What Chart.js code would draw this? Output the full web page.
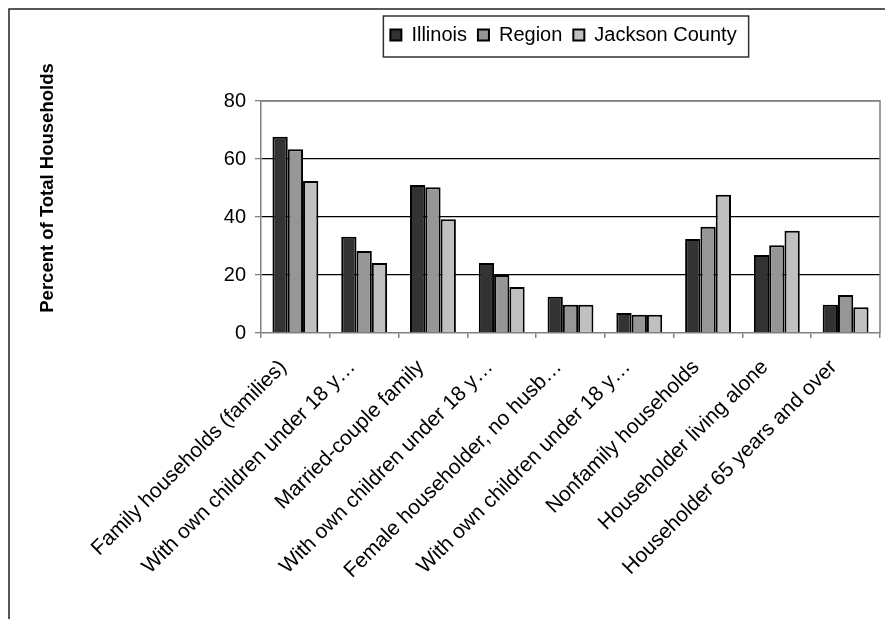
<!DOCTYPE html>
<html>
<head>
<meta charset="utf-8">
<script src="https://cdn.jsdelivr.net/npm/chart.js@4/dist/chart.umd.min.js"></script>
<style>
  body { margin: 0; background: #fff; }
  canvas { display: block; }
</style>
</head>
<body>
<canvas id="households" width="885" height="619"></canvas>
<script>
// household types (labels as shown, cut off like the original)
var categories = [
    "Family households (families)",
    "With own children under 18 y\u2026",
    "Married-couple family",
    "With own children under 18 y\u2026",
    "Female householder, no husb\u2026",
    "With own children under 18 y\u2026",
    "Nonfamily households",
    "Householder living alone",
    "Householder 65 years and over"
];
var illinois = [67.7, 33.2, 51.0, 24.1, 12.5, 6.9, 32.4, 26.9, 9.7];
var region   = [63.4, 28.3, 50.3, 20.0, 9.7, 6.3, 36.6, 30.3, 13.1];
var jackson  = [52.4, 24.1, 39.2, 15.9, 9.7, 6.3, 47.7, 35.3, 8.9];
var yTicks = [0, 20, 40, 60, 80];

var fontFam = "Arial, 'Liberation Sans', sans-serif";
var legendShift = -7;

// push the plot down below the legend, nudge legend a bit left
var legendGap = {
    id: 'legendGap',
    beforeLayout: function (chart) {
        var lg = chart.legend;
        if (!lg || lg._gapPatched) return;
        var fit = lg.fit;
        lg.fit = function () {
            fit.call(this);
            this.height += 46;
        };
        var draw = lg.draw;
        lg.draw = function () {
            this.ctx.save();
            this.ctx.translate(legendShift, 0);
            draw.call(this);
            this.ctx.restore();
        };
        lg._gapPatched = true;
    }
};

var extras = {
    id: 'extras',
    beforeDatasetsDraw: function (chart) {
        var c = chart.ctx, a = chart.chartArea;
        c.save();
        c.strokeStyle = '#808080';
        c.lineWidth = 1.5;
        c.beginPath();
        c.moveTo(a.left, a.top);
        c.lineTo(a.right, a.top);
        c.lineTo(a.right, a.bottom);
        c.stroke();
        c.restore();
    },
    afterDraw: function (chart) {
        var c = chart.ctx;
        c.save();
        // outer frame (only top and left are in view)
        c.strokeStyle = '#222';
        c.lineWidth = 1.5;
        c.beginPath();
        c.moveTo(9, 619);
        c.lineTo(9, 9);
        c.lineTo(885, 9);
        c.stroke();

        // y axis title
        c.translate(48, 188);
        c.rotate(-Math.PI / 2);
        c.fillStyle = '#000';
        c.font = 'bold 18.5px ' + fontFam;
        c.textAlign = 'center';
        c.textBaseline = 'middle';
        c.fillText('Percent of Total Households', 0, 0);
        c.restore();

        // box around legend
        var hb = chart.legend.legendHitBoxes;
        if (hb && hb.length) {
            var l = hb[0].left + legendShift,
                r = hb[hb.length - 1].left + hb[hb.length - 1].width + legendShift;
            c.save();
            c.strokeStyle = '#333';
            c.lineWidth = 1.5;
            c.strokeRect(l - 7, 16, (r + 12) - (l - 7), 41);
            c.restore();
        }
    }
};

var ctx = document.getElementById("households");
var chart = new Chart(ctx, {
    type: 'bar',
    data: {
        labels: categories,
        datasets: [{
            label: 'Illinois',
            data: illinois,
            backgroundColor: '#333333',
            borderColor: '#000',
            borderWidth: 2
        }, {
            label: 'Region',
            data: region,
            backgroundColor: '#969696',
            borderColor: '#000',
            borderWidth: 2
        }, {
            label: 'Jackson County',
            data: jackson,
            backgroundColor: '#c0c0c0',
            borderColor: '#000',
            borderWidth: 2
        }]
    },
    options: {
        responsive: false,
        animation: false,
        categoryPercentage: 0.667,
        barPercentage: 1.0,
        layout: { padding: { left: 0, right: 5, top: 14, bottom: 0 } },
        plugins: {
            tooltip: { enabled: false },
            legend: {
                position: 'top',
                fullSize: false,
                labels: {
                    boxWidth: 11,
                    boxHeight: 11,
                    padding: 11,
                    color: '#000',
                    font: { family: fontFam, size: 20 }
                }
            }
        },
        scales: {
            x: {
                grid: {
                    offset: true,
                    drawOnChartArea: false,
                    drawTicks: true,
                    tickLength: 5,
                    tickColor: '#808080',
                    lineWidth: 1.5
                },
                border: { color: '#808080', width: 1.5 },
                ticks: {
                    autoSkip: false,
                    minRotation: 45,
                    maxRotation: 45,
                    padding: 17,
                    labelOffset: -12,
                    color: '#000',
                    font: { family: fontFam, size: 21 }
                },
                afterFit: function (scale) { scale.height = 286; }
            },
            y: {
                min: 0,
                max: 80,
                afterBuildTicks: function (scale) {
                    scale.ticks = yTicks.map(function (v) { return { value: v }; });
                },
                grid: {
                    color: function (g) {
                        if (g.tick.value === 0) return 'rgba(0,0,0,0)';
                        if (g.tick.value === 80) return '#808080';
                        return '#000';
                    },
                    lineWidth: 1.3,
                    tickLength: 6,
                    tickColor: '#808080'
                },
                border: { color: '#808080', width: 1.5 },
                ticks: {
                    padding: 9,
                    color: '#000',
                    font: { family: fontFam, size: 20 }
                },
                afterFit: function (scale) { scale.width = 261; }
            }
        }
    },
    plugins: [legendGap, extras]
});
</script>
</body>
</html>
